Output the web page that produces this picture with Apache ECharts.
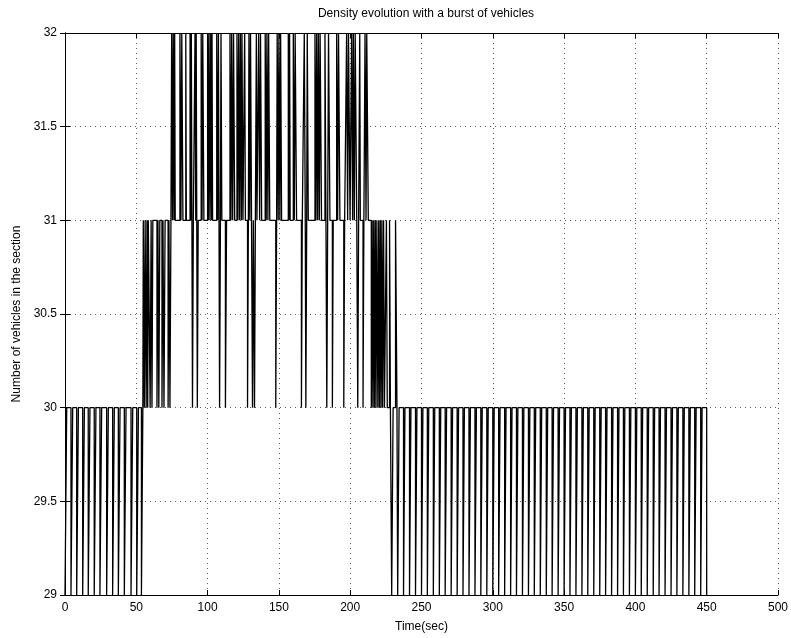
<!DOCTYPE html>
<html>
<head>
<meta charset="utf-8">
<title>Density evolution</title>
<script src="https://cdn.jsdelivr.net/npm/echarts@6/dist/echarts.min.js"></script>
<style>
    html, body { margin: 0; padding: 0; background: #fff; }
    #chart { width: 791px; height: 638px; }
</style>
</head>
<body>
<div id="chart"></div>
<script>
// tick values of the axes
var xTicks = [0, 50, 100, 150, 200, 250, 300, 350, 400, 450, 500];
var yTicks = [29, 29.5, 30, 30.5, 31, 31.5, 32];

// start of the run: 30 vehicles, short drops to 29 ([from, to] in sec)
var dipsStart = [[0, 1.2], [4.2, 5.4], [8.2, 9.4], [12.4, 13.6], [16.3, 17.5], [20.5, 21.7],
    [24.5, 25.7], [29.2, 30.4], [33.4, 34.6], [37.4, 38.6], [41.6, 42.8], [46.3, 47.5],
    [50.3, 51.5], [53.6, 54.6]];

// the burst: [time, vehicles] change points
var burstSteps = [
    [54.9, 31], [55.6, 30], [56.2, 31], [56.9, 30], [57.5, 31], [58.0, 30], [58.4, 31],
    [59.7, 30], [60.4, 31], [61.0, 30], [61.6, 31],
    [64.5, 30], [65.2, 31], [65.8, 30], [66.5, 31],
    [68.0, 30], [68.7, 31], [69.4, 30], [70.2, 31],
    [72.3, 30], [72.9, 31], [73.6, 30], [74.3, 31],
    [74.8, 32], [75.4, 31], [75.9, 32], [76.5, 31], [76.9, 32], [77.3, 31],
    [80.6, 32], [81.3, 31], [81.9, 32], [82.7, 31],
    [84.7, 32], [85.1, 31],
    [87.7, 32], [88.2, 31], [88.6, 32], [89.0, 31], [89.4, 30], [90.0, 31],
    [91.2, 32], [91.7, 31], [92.0, 32], [92.4, 31], [92.8, 30], [93.4, 31],
    [95.5, 32], [96.1, 31], [96.6, 32], [97.4, 31],
    [100.0, 32], [100.6, 31], [101.0, 32], [101.7, 31], [102.2, 32], [102.8, 31], [103.1, 32], [103.5, 31],
    [106.4, 32], [107.0, 31], [107.6, 32], [108.0, 31], [108.4, 30], [109.0, 31], [109.4, 32], [110.0, 31],
    [112.5, 30], [113.3, 31],
    [115.7, 32], [116.4, 31], [116.9, 32], [117.6, 31], [118.2, 32], [119.0, 31],
    [120.6, 32], [121.3, 31], [121.8, 32], [122.5, 31], [123.0, 32], [123.7, 31], [124.1, 32], [124.8, 31],
    [126.0, 32], [126.5, 31],
    [128.0, 30], [128.6, 31], [129.0, 32], [129.6, 31], [130.1, 32], [130.8, 31],
    [131.5, 30], [132.1, 31], [132.9, 30], [133.5, 31], [134.2, 32], [134.6, 31],
    [135.8, 32], [136.5, 31], [137.1, 32], [137.9, 31],
    [140.4, 32], [141.1, 31], [141.6, 32], [142.3, 31], [142.8, 32], [143.6, 31],
    [147.8, 30], [148.4, 31], [148.8, 32], [149.5, 31], [150.0, 32], [150.7, 31], [151.2, 32], [151.9, 31],
    [156.6, 32], [157.2, 31], [157.5, 32], [157.9, 31],
    [160.1, 32], [160.8, 31], [161.4, 32], [162.4, 31],
    [165.8, 30], [166.4, 31], [167.8, 32], [168.5, 31], [168.9, 30], [169.5, 31], [169.9, 32], [170.6, 31],
    [175.3, 32], [176.0, 31], [176.5, 32], [177.2, 31], [177.7, 32], [178.4, 31], [178.9, 32], [179.9, 31],
    [182.3, 32], [183.0, 31], [183.6, 30], [184.2, 31], [184.8, 32], [185.8, 31],
    [187.5, 30], [188.1, 31],
    [190.5, 32], [191.2, 31], [191.8, 32], [192.8, 31],
    [195.5, 30], [196.1, 31],
    [197.5, 32], [198.2, 31], [198.8, 32], [199.9, 31],
    [201.0, 32], [201.7, 31], [202.2, 32], [202.9, 31], [203.5, 32], [204.6, 31],
    [205.3, 30], [205.9, 31], [206.7, 32], [207.1, 31],
    [209.0, 30], [209.6, 31], [210.4, 32], [211.1, 31], [211.6, 32], [212.7, 31],
    [214.8, 30], [215.4, 31], [215.9, 30], [216.5, 31], [217.0, 30], [217.6, 31], [218.1, 30], [218.7, 31],
    [219.4, 30], [220.0, 31], [220.5, 30], [221.1, 31], [221.6, 30], [222.2, 31], [222.7, 30], [223.4, 31],
    [224.0, 30], [225.4, 31], [226.0, 30], [227.6, 31], [228.2, 30],
    [231.8, 31], [232.8, 30]
];

// after the burst: back to 30 with short drops to 29 ([from, to] in sec)
var dipsEnd = [[229.1, 230.1], [233.3, 234.3], [237.4, 238.4], [241.6, 242.6], [245.8, 246.8],
    [250.0, 251.0], [254.1, 255.1], [258.3, 259.3], [262.5, 263.5], [266.6, 267.6],
    [270.8, 271.8], [275.0, 276.0], [279.1, 280.1], [283.3, 284.3], [287.5, 288.5],
    [291.6, 292.6], [295.8, 296.8], [300.0, 301.0], [304.1, 305.1], [308.3, 309.3],
    [312.5, 313.5], [316.6, 317.6], [320.8, 321.8], [325.0, 326.0], [329.1, 330.1],
    [333.3, 334.3], [337.5, 338.5], [341.6, 342.6], [345.8, 346.8], [350.0, 351.0],
    [354.1, 355.1], [358.3, 359.3], [362.5, 363.5], [366.6, 367.6], [370.8, 371.8],
    [375.0, 376.0], [379.1, 380.1], [383.3, 384.3], [387.5, 388.5], [391.6, 392.6],
    [395.8, 396.8], [400.0, 401.0], [404.1, 405.1], [408.3, 409.3], [412.5, 413.5],
    [416.6, 417.6], [420.8, 421.8], [425.0, 426.0], [429.1, 430.1], [433.3, 434.3],
    [437.5, 438.5], [441.6, 442.6], [445.8, 446.8]];
var lastPoint = [450, 29];

(function () {
    var myChart = echarts.init(document.getElementById("chart"));

    // turn everything into one list of change points
    var steps = [];
    dipsStart.forEach(function (d) { steps.push([d[0], 29], [d[1], 30]); });
    burstSteps.forEach(function (s) { steps.push(s); });
    dipsEnd.forEach(function (d) { steps.push([d[0], 29], [d[1], 30]); });
    steps.push(lastPoint);
    steps.sort(function (a, b) { return a[0] - b[0]; });

    var font = "'Liberation Sans', Arial, sans-serif";
    var dotted = { color: "#333", width: 0.8, type: [1, 4] };

    var option = {
        animation: false,
        title: {
            text: "Density evolution with a burst of vehicles",
            left: 421,
            top: 3,
            textAlign: "center",
            textStyle: { fontSize: 12, fontWeight: "normal", color: "#000", fontFamily: font }
        },
        grid: { left: 65, right: 13, top: 33, bottom: 43 },
        xAxis: [
            {
                type: "value",
                min: xTicks[0],
                max: xTicks[xTicks.length - 1],
                interval: 50,
                name: "Time(sec)",
                nameLocation: "middle",
                nameGap: 26,
                nameTextStyle: { color: "#000", fontSize: 12, fontFamily: font },
                axisLine: { lineStyle: { color: "#000", width: 1 } },
                axisTick: { inside: true, length: 5, lineStyle: { color: "#000" } },
                axisLabel: { color: "#000", fontSize: 12, margin: 7, fontFamily: font },
                splitLine: { show: true, lineStyle: dotted }
            },
            {
                type: "value",
                position: "top",
                min: xTicks[0],
                max: xTicks[xTicks.length - 1],
                interval: 50,
                axisLine: { lineStyle: { color: "#000", width: 1 } },
                axisTick: { inside: true, length: 5, lineStyle: { color: "#000" } },
                axisLabel: { show: false },
                splitLine: { show: false }
            }
        ],
        yAxis: [
            {
                type: "value",
                min: yTicks[0],
                max: yTicks[yTicks.length - 1],
                interval: 0.5,
                name: "Number of vehicles in the section",
                nameLocation: "middle",
                nameGap: 42,
                nameTextStyle: { color: "#000", fontSize: 12, fontFamily: font },
                axisLine: { show: true, lineStyle: { color: "#000", width: 1 } },
                axisTick: { show: true, inside: true, length: 5, lineStyle: { color: "#000" } },
                axisLabel: { color: "#000", fontSize: 12, margin: 8, fontFamily: font },
                splitLine: { show: true, lineStyle: dotted }
            },
            {
                type: "value",
                position: "right",
                min: yTicks[0],
                max: yTicks[yTicks.length - 1],
                interval: 0.5,
                axisLine: { show: true, lineStyle: { color: "#000", width: 1 } },
                axisTick: { show: true, inside: true, length: 5, lineStyle: { color: "#000" } },
                axisLabel: { show: false },
                splitLine: { show: false }
            }
        ],
        series: [
            {
                name: "vehicles",
                type: "line",
                step: "end",
                xAxisIndex: 0,
                yAxisIndex: 0,
                showSymbol: false,
                symbol: "none",
                data: steps,
                lineStyle: { color: "#000", width: 1.3 }
            }
        ]
    };
    myChart.setOption(option);
    window.addEventListener("resize", function () {
        myChart.resize();
    });
})();
</script>
</body>
</html>
